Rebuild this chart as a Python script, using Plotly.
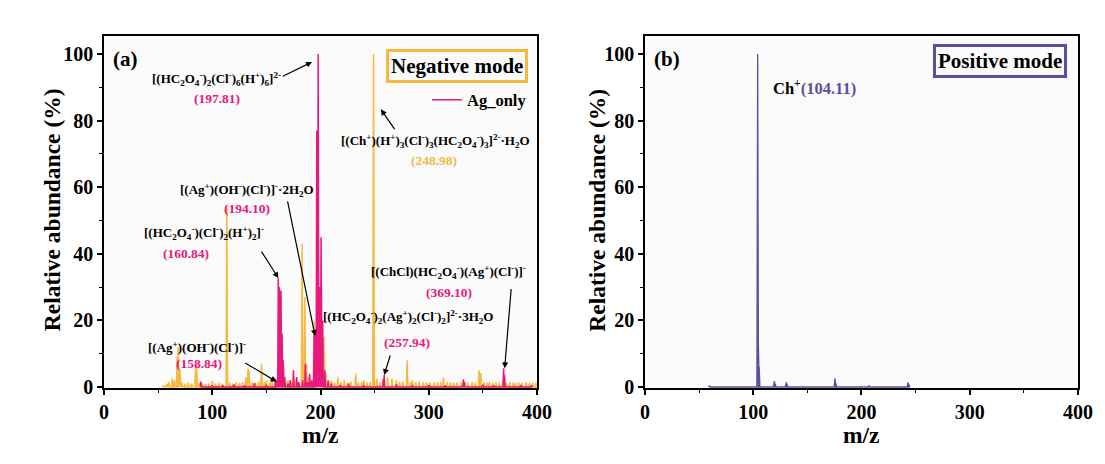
import plotly.graph_objects as go

# ---------------- data ----------------
# Negative mode, reference spectrum (yellow, unlabeled in legend)
neg_ref_mz = [55, 58, 60, 63, 65, 67.5, 68.5, 70, 72, 75, 78, 81, 84.5, 85.5, 88, 91, 94, 97, 100,
              103, 106, 109, 113.5, 116, 119, 122, 125, 128, 131, 133, 134, 137, 140, 143, 145.5,
              148, 150, 153, 155, 158, 165, 168, 170, 173, 176, 179, 183, 185.5, 187, 189, 191,
              194, 203, 205, 208, 210, 213, 216, 219, 222, 225, 228, 232.5, 235, 238, 240, 243,
              246, 249, 252, 255, 258, 262, 266, 270, 273, 276, 280, 283, 285, 288, 291, 295, 298,
              301, 305, 308, 311, 313.5, 317, 320, 323, 326, 330, 333, 336, 340, 343, 346.5, 348,
              351, 354, 356, 359, 362, 365, 368.5, 372, 375, 378, 380, 383, 386, 390, 393, 396, 399]
neg_ref_ab = [0.6, 1.0, 1.5, 2.5, 2.0, 9.0, 12.0, 5.0, 1.2, 1.0, 1.3, 1.0, 5.5, 6.6, 1.2, 1.0, 0.9, 1.1, 1.8,
              1.0, 1.2, 1.0, 54.0, 1.3, 1.0, 1.4, 1.2, 1.5, 3.0, 5.5, 5.0, 1.5, 1.3, 1.6, 7.0,
              1.5, 2.0, 1.4, 2.5, 1.5, 3.0, 1.6, 2.0, 1.5, 2.5, 1.6, 43.0, 27.0, 7.0, 3.0, 2.0,
              20.0, 15.0, 4.0, 1.6, 2.0, 1.4, 3.0, 1.5, 2.0, 1.3, 1.6, 4.0, 1.4, 1.5, 2.0, 1.3,
              1.5, 100.0, 2.5, 1.5, 1.8, 3.0, 2.5, 2.0, 1.5, 1.7, 8.0, 1.5, 2.0, 1.4, 1.6, 1.5, 1.3,
              1.5, 1.5, 1.3, 1.6, 2.8, 1.4, 1.5, 1.3, 1.4, 1.5, 1.3, 1.4, 1.5, 1.3, 5.0, 4.2,
              1.4, 1.3, 1.5, 1.2, 1.4, 1.3, 2.0, 1.2, 1.4, 1.2, 1.2, 1.4, 1.2, 1.5, 1.3, 1.2, 1.2]

# Negative mode, Ag_only (pink)
neg_ag_mz = [89.5, 100, 110, 120, 130, 139, 150, 158.5, 159.5, 161, 162, 163.5, 164.5, 165.5, 167,
             170, 172, 175, 178, 180, 183.5, 186, 188, 190, 192, 194.1, 195, 196.5, 197.81, 199,
             200.5, 202, 204, 207, 210, 218, 226, 240, 258, 258.8, 270, 285, 300, 315, 332, 333,
             350, 360, 369.1, 370, 385, 395]
neg_ag_ab = [1.6, 0.4, 0.5, 0.8, 0.5, 1.2, 0.6, 2.5, 1.8, 32.7, 30.0, 29.0, 16.0, 8.0, 3.0,
             1.0, 2.0, 5.0, 3.0, 1.5, 2.0, 7.0, 1.5, 4.0, 2.0, 15.6, 17.0, 77.0, 100.0, 30.0,
             45.0, 20.0, 5.0, 2.0, 1.0, 0.6, 1.0, 0.5, 2.5, 3.6, 0.8, 0.5, 0.6, 0.5, 2.3, 1.5,
             0.7, 0.5, 5.6, 3.5, 0.6, 0.5]

# Positive mode (purple)
pos_mz = [59.5, 104.11, 104.8, 105.5, 119.5, 120.3, 130.5, 131.3, 175.5, 176.3, 207, 243, 244]
pos_ab = [0.3, 100.0, 12.6, 6.0, 1.8, 1.0, 1.5, 0.8, 2.6, 1.2, 0.4, 1.4, 0.7]

x_ticks = [0, 100, 200, 300, 400]
y_ticks = [0, 20, 40, 60, 80, 100]

# ---------------- styling ----------------
PINK = "#E8187C"
YELLOW = "#F5B93E"
PURPLE = "#5B4F9F"
FONT = "Liberation Serif"


def stick_profile(mz, ab, half=0.55):
    """Turn a list of centroid peaks into a stick-spectrum profile."""
    pairs = sorted(zip(mz, ab))
    xs, ys = [], []
    for m, a in pairs:
        xs += [m - half, m, m + half]
        ys += [0, a, 0]
    return xs, ys


fig = go.Figure()

xr, yr = stick_profile(neg_ref_mz, neg_ref_ab, half=0.7)
fig.add_trace(go.Scatter(x=xr, y=yr, mode="lines", line=dict(color=YELLOW, width=1.5),
                         fill="tozeroy", fillcolor=YELLOW, showlegend=False,
                         xaxis="x", yaxis="y", name="Reference"))
xa, ya = stick_profile(neg_ag_mz, neg_ag_ab)
fig.add_trace(go.Scatter(x=xa, y=ya, mode="lines", line=dict(color=PINK, width=1.5),
                         showlegend=True, xaxis="x", yaxis="y", name="Ag_only"))
xp, yp = stick_profile(pos_mz, pos_ab, half=0.7)
fig.add_trace(go.Scatter(x=xp, y=yp, mode="lines", line=dict(color=PURPLE, width=1.3),
                         fill="tozeroy", fillcolor=PURPLE, showlegend=False,
                         xaxis="x2", yaxis="y2", name="Positive"))

axis_common = dict(
    showline=True, linecolor="black", linewidth=1.6, mirror=True,
    ticks="outside", ticklen=5, tickwidth=1.5, tickcolor="black",
    showgrid=False, zeroline=False,
    tickfont=dict(family=FONT, size=20, color="black", weight="bold"),
)

xaxis_common = dict(axis_common, range=[0, 400], tickvals=x_ticks,
                    minor=dict(ticks="outside", dtick=50, ticklen=3, tickwidth=1.2, tickcolor="black"))
yaxis_common = dict(axis_common, range=[-0.3, 105.4], tickvals=y_ticks,
                    minor=dict(ticks="outside", dtick=10, ticklen=3, tickwidth=1.2, tickcolor="black"))

fig.update_layout(
    width=1105, height=464,
    margin=dict(l=104, r=18, t=36, b=76),
    paper_bgcolor="white", plot_bgcolor="#fbfbfb",
    font=dict(family=FONT, color="black"),
    xaxis=dict(xaxis_common, domain=[0, 0.4446], anchor="y"),
    yaxis=dict(yaxis_common, domain=[0, 1], anchor="x"),
    xaxis2=dict(xaxis_common, domain=[0.5554, 1], anchor="y2"),
    yaxis2=dict(yaxis_common, domain=[0, 1], anchor="x2"),
    legend=dict(x=0.3316, y=0.818, xanchor="left", yanchor="middle",
                bgcolor="rgba(0,0,0,0)", borderwidth=0,
                font=dict(family=FONT, size=16.5, color="black", weight="bold")),
)

LBL = 13
NUM = 13.5
TITLE = 23.5
ann = []


def label(x, y, text, color="black", size=LBL, xref="x", yref="y", angle=0):
    ann.append(dict(x=x, y=y, xref=xref, yref=yref, text=text, showarrow=False, textangle=angle,
                    xanchor="center", yanchor="middle",
                    font=dict(family=FONT, size=size, color=color, weight="bold")))


def arrow(tip, tail, xref="x", yref="y"):
    ann.append(dict(x=tip[0], y=tip[1], ax=tail[0], ay=tail[1], xref=xref, yref=yref,
                    axref=xref, ayref=yref, text="", showarrow=True, arrowhead=2,
                    arrowsize=1, arrowwidth=1.2, arrowcolor="black", standoff=0, startstandoff=0))


# axis titles
label(-0.053, 0.506, "Relative abundance (%)", size=TITLE, xref="paper", yref="paper", angle=-90)
label(0.5060, 0.506, "Relative abundance (%)", size=TITLE, xref="paper", yref="paper", angle=-90)
label(0.2223, -0.134, "m/z", size=TITLE, xref="paper", yref="paper")
label(0.7777, -0.134, "m/z", size=TITLE, xref="paper", yref="paper")

# panel (a)
label(20.1, 98.5, "(a)", size=21)
ann.append(dict(x=326, y=96.3, xref="x", yref="y", text="Negative mode", showarrow=False,
                font=dict(family=FONT, size=21, color="black", weight="bold"),
                bordercolor=YELLOW, borderwidth=3, borderpad=2))

label(104.3, 92.5, "[(HC<sub>2</sub>O<sub>4</sub><sup>-</sup>)<sub>2</sub>(Cl<sup>-</sup>)<sub>6</sub>(H<sup>+</sup>)<sub>6</sub>]<sup>2-</sup>")
label(104.3, 86.5, "(197.81)", PINK, NUM)
arrow((192.2, 97.6), (163.8, 93.1))

label(306.5, 73.9, "[(Ch<sup>+</sup>)(H<sup>+</sup>)<sub>3</sub>(Cl<sup>-</sup>)<sub>3</sub>(HC<sub>2</sub>O<sub>4</sub><sup>-</sup>)<sub>3</sub>]<sup>2-</sup>·H<sub>2</sub>O")
label(304.5, 67.9, "(248.98)", YELLOW, NUM)
arrow((255.7, 83.4), (269.4, 77.0))

label(131.8, 59.2, "[(Ag<sup>+</sup>)(OH<sup>-</sup>)(Cl<sup>-</sup>)]<sup>-</sup>·2H<sub>2</sub>O")
label(132.1, 53.7, "(194.10)", PINK, NUM)
arrow((195.0, 15.3), (169.3, 56.2))

label(92.4, 46.2, "[(HC<sub>2</sub>O<sub>4</sub><sup>-</sup>)(Cl<sup>-</sup>)<sub>2</sub>(H<sup>+</sup>)<sub>2</sub>]<sup>-</sup>")
label(75.7, 40.2, "(160.84)", PINK, NUM)
arrow((161.1, 32.7), (144.6, 41.1))

label(86.0, 12.0, "[(Ag<sup>+</sup>)(OH<sup>-</sup>)(Cl<sup>-</sup>)]<sup>-</sup>")
label(87.9, 7.1, "(158.84)", PINK, NUM)
arrow((159.5, 1.6), (129.1, 7.5))

label(281.0, 21.0, "[(HC<sub>2</sub>O<sub>4</sub><sup>-</sup>)<sub>2</sub>(Ag<sup>+</sup>)<sub>2</sub>(Cl<sup>-</sup>)<sub>2</sub>]<sup>2-</sup>·3H<sub>2</sub>O")
label(280.1, 13.3, "(257.94)", PINK, NUM)
arrow((258.8, 3.6), (264.8, 9.9))

label(318.3, 34.5, "[(ChCl)(HC<sub>2</sub>O<sub>4</sub><sup>-</sup>)(Ag<sup>+</sup>)(Cl<sup>-</sup>)]<sup>-</sup>")
label(318.3, 28.3, "(369.10)", PINK, NUM)
arrow((370.1, 5.6), (376.2, 29.9))

# panel (b)
label(20.1, 98.5, "(b)", size=21, xref="x2", yref="y2")
ann.append(dict(x=328.4, y=97.8, xref="x2", yref="y2", text="Positive mode", showarrow=False,
                font=dict(family=FONT, size=21, color="black", weight="bold"),
                bordercolor=PURPLE, borderwidth=3, borderpad=2))
label(157, 89.8, f"Ch<sup>+</sup><span style='color:{PURPLE}'>(104.11)</span>", size=16.5,
      xref="x2", yref="y2")

fig.update_layout(annotations=ann)

fig.write_html("out.html")
